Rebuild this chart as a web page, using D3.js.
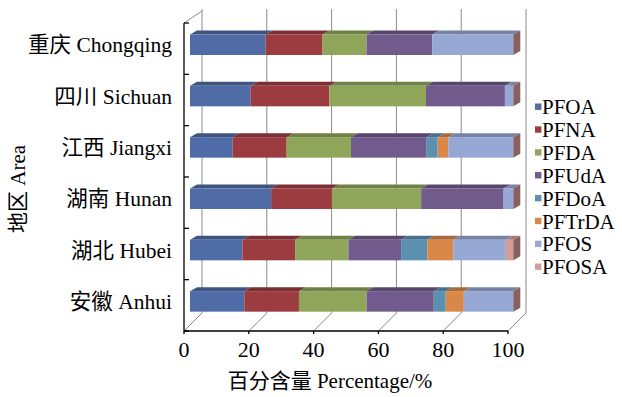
<!DOCTYPE html>
<html>
<head>
<meta charset="utf-8">
<script src="https://cdn.jsdelivr.net/npm/d3@7"></script>
<style>
  html, body { margin: 0; padding: 0; background: #fff; }
  svg text { font-family: "Liberation Serif", "Noto Sans CJK SC", serif; fill: #000; }
</style>
</head>
<body>
<svg id="chart" width="622" height="397"></svg>
<script>
// Regions, top to bottom
const categories = ["重庆 Chongqing", "四川 Sichuan", "江西 Jiangxi", "湖南 Hunan", "湖北 Hubei", "安徽 Anhui"];
const seriesNames = ["PFOA", "PFNA", "PFDA", "PFUdA", "PFDoA", "PFTrDA", "PFOS", "PFOSA"];

// Percentage share of each compound per region
const PFOA   = [23.4, 18.8, 13.2, 25.1, 16.2, 16.8];
const PFNA   = [17.6, 24.3, 16.7, 18.8, 16.3, 16.9];
const PFDA   = [13.6, 29.9, 19.9, 27.6, 16.5, 20.9];
const PFUdA  = [20.3, 24.4, 23.4, 25.5, 16.3, 20.8];
const PFDoA  = [0, 0, 3.4, 0, 8.1, 3.7];
const PFTrDA = [0, 0, 3.3, 0, 8.0, 5.6];
const PFOS   = [25.1, 2.6, 20.1, 3.0, 16.3, 15.3];
const PFOSA  = [0, 0, 0, 0, 2.3, 0];

const xTicks = [0, 20, 40, 60, 80, 100];

const seriesValues = [PFOA, PFNA, PFDA, PFUdA, PFDoA, PFTrDA, PFOS, PFOSA];
const colors = ["#4F6CA6", "#9C3C41", "#8FA65A", "#715B8C", "#5B90B1", "#D9884A", "#97A8D4", "#D59B99"];

const rows = categories.map((c, i) => {
  const r = { region: c };
  seriesNames.forEach((s, j) => { r[s] = seriesValues[j][i]; });
  return r;
});
const stacked = d3.stack().keys(seriesNames)(rows);

const svg = d3.select("#chart");

// Front plane of the plot box
const x = d3.scaleLinear().domain([0, 100]).range([184, 508]);
const y = d3.scaleBand().domain(categories).range([23, 331]).paddingInner(0).paddingOuter(0);

// Depth offsets: back wall and bar body
const wallDX = 18, wallTopY = 9, wallBotY = 313;
const barDepthX = 7, barDepthY = 4;
const barH = 20.5, barTopInset = 11.5;

const grid = svg.append("g").attr("stroke", "#8a8a8a").attr("stroke-width", 1).attr("fill", "none");

// Back wall gridlines
grid.selectAll("line.v").data(xTicks).join("line")
  .attr("x1", d => x(d) + wallDX).attr("x2", d => x(d) + wallDX)
  .attr("y1", wallTopY).attr("y2", wallBotY);

// Floor diagonals
grid.selectAll("line.f").data(xTicks).join("line")
  .attr("x1", d => x(d)).attr("y1", y.range()[1])
  .attr("x2", d => x(d) + wallDX).attr("y2", wallBotY);

// Left wall top edge
grid.append("line")
  .attr("x1", x(0)).attr("y1", y.range()[0])
  .attr("x2", x(0) + wallDX).attr("y2", wallTopY + 2);

// Bar front faces sit slightly behind the front plane
const xb = d3.scaleLinear().domain([0, 100]).range([190, 513.3]);
const bars = svg.append("g");

stacked.forEach((layer, j) => {
  const col = colors[j];
  const g = bars.append("g");
  layer.forEach((seg, i) => {
    const x0 = xb(seg[0]), x1 = xb(seg[1]);
    if (x1 - x0 <= 0.01) return;
    const yt = y(categories[i]) + barTopInset;
    // top face
    g.append("path")
      .attr("d", `M${x0},${yt} L${x0 + barDepthX},${yt - barDepthY} L${x1 + barDepthX},${yt - barDepthY} L${x1},${yt} Z`)
      .attr("fill", d3.color(col).darker(0.7));
    // front face
    g.append("rect")
      .attr("x", x0).attr("y", yt).attr("width", x1 - x0).attr("height", barH)
      .attr("fill", col);
  });
});

// End caps at 100%
categories.forEach(c => {
  const x1 = xb(100);
  const yt = y(c) + barTopInset;
  bars.append("path")
    .attr("d", `M${x1},${yt} L${x1 + barDepthX},${yt - barDepthY} L${x1 + barDepthX},${yt + barH - barDepthY} L${x1},${yt + barH} Z`)
    .attr("fill", d3.color(colors[colors.length - 1]).darker(1.3));
});

// Axes
const axes = svg.append("g").attr("stroke", "#000").attr("stroke-width", 1.3);
axes.append("line").attr("x1", x(0)).attr("x2", x(0)).attr("y1", y.range()[0]).attr("y2", y.range()[1]);
axes.append("line").attr("x1", x(0)).attr("x2", x(100)).attr("y1", y.range()[1]).attr("y2", y.range()[1]);
const bounds = categories.map(c => y(c)).concat([y.range()[1]]);
axes.selectAll("line.t").data(bounds).join("line")
  .attr("x1", x(0)).attr("x2", x(0) + 5).attr("y1", d => d).attr("y2", d => d);
axes.selectAll("line.xt").data(xTicks).join("line")
  .attr("x1", d => x(d)).attr("x2", d => x(d)).attr("y1", y.range()[1]).attr("y2", y.range()[1] + 3);

// Tick labels
svg.append("g").selectAll("text").data(xTicks).join("text")
  .attr("x", d => x(d)).attr("y", 357)
  .attr("text-anchor", "middle").attr("font-size", 22)
  .text(d => d);

// Category labels
svg.append("g").selectAll("text").data(categories).join("text")
  .attr("x", 172).attr("y", d => y(d) + barTopInset + barH / 2)
  .attr("dy", "0.36em")
  .attr("text-anchor", "end").attr("font-size", 21.5)
  .text(d => d);

// Axis titles
svg.append("text").attr("x", 330).attr("y", 388)
  .attr("text-anchor", "middle").attr("font-size", 21)
  .text("百分含量 Percentage/%");
svg.append("text")
  .attr("transform", "translate(25,189) rotate(-90)")
  .attr("text-anchor", "middle").attr("font-size", 21)
  .text("地区 Area");

// Legend
const legend = svg.append("g").selectAll("g").data(seriesNames).join("g")
  .attr("transform", (d, i) => `translate(535,${106.7 + i * 22.86})`);
legend.append("rect").attr("x", 0).attr("y", -3.2).attr("width", 6.4).attr("height", 6.4)
  .attr("fill", (d, i) => colors[i]);
legend.append("text").attr("x", 7)
  .attr("dy", "0.36em").attr("font-size", 21).text(d => d);
</script>
</body>
</html>
